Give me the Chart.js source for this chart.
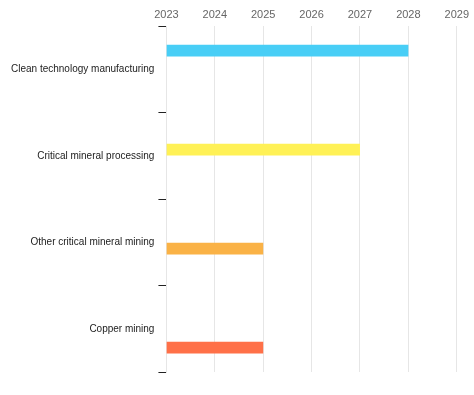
<!DOCTYPE html>
<html>
<head>
<meta charset="utf-8">
<script src="https://cdn.jsdelivr.net/npm/chart.js@4/dist/chart.umd.min.js"></script>
<style>
  html, body { margin: 0; padding: 0; background: #fff; }
</style>
</head>
<body>
<canvas id="timeline" width="474" height="395"></canvas>
<script>
// categories and the span of each bar (start year -> end year)
const categories = ['Clean technology manufacturing', 'Critical mineral processing', 'Other critical mineral mining', 'Copper mining'];
const startYears = [2023, 2023, 2023, 2023];
const endYears = [2028, 2027, 2025, 2025];
const barColors = ['rgb(72,206,246)', 'rgb(255,241,86)', 'rgb(250,178,70)', 'rgb(255,112,72)'];
const yearMin = 2023;
const yearMax = 2029;

// one dataset per category so each bar sits in its own slot of the group
const datasets = categories.map(function(cat, i){
    return {
        label: cat,
        data: categories.map(function(c, j){
            return j === i ? [startYears[i], endYears[i]] : null;
        }),
        backgroundColor: barColors[i],
        borderWidth: 0,
        categoryPercentage: 0.58,
        barPercentage: 0.93
    };
});

const ctx = document.getElementById('timeline');
const chart = new Chart(ctx, {
    type: 'bar',
    data: {
        labels: categories,
        datasets: datasets
    },
    options: {
        indexAxis: 'y',
        responsive: false,
        animation: false,
        layout: {
            padding: { left: 7, right: 4, top: 3, bottom: 23 }
        },
        scales: {
            x: {
                position: 'top',
                min: yearMin,
                max: yearMax,
                ticks: {
                    stepSize: 1,
                    color: '#666',
                    padding: 5,
                    font: { family: 'Liberation Sans, Arial, sans-serif', size: 11 },
                    callback: function(v){ return String(v); }
                },
                grid: {
                    color: '#e6e6e6',
                    drawTicks: false
                },
                border: { display: false }
            },
            y: {
                ticks: {
                    color: '#222',
                    padding: 4,
                    font: { family: 'Liberation Sans, Arial, sans-serif', size: 10 }
                },
                grid: {
                    offset: true,
                    drawOnChartArea: false,
                    color: '#222',
                    tickLength: 8
                },
                border: { display: true, color: '#e6e6e6' }
            }
        },
        plugins: {
            legend: { display: false },
            tooltip: { enabled: false }
        }
    }
});
</script>
</body>
</html>
